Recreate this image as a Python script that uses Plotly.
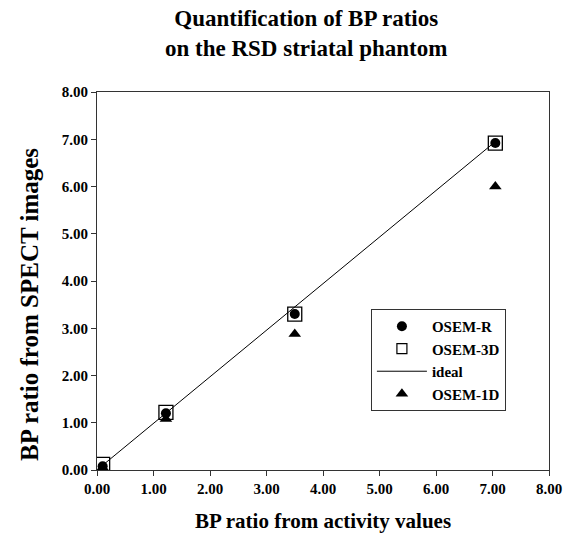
import plotly.graph_objects as go

activity = [0.10, 1.22, 3.50, 7.05]
osem_r = [0.08, 1.20, 3.30, 6.92]
osem_3d = [0.12, 1.22, 3.30, 6.92]
osem_1d = [0.05, 1.08, 2.88, 6.00]
ideal_x = [0.10, 7.05]
ideal_y = [0.10, 6.95]
ticks = [0, 1, 2, 3, 4, 5, 6, 7, 8]
tick_labels = ["<b>0.00</b>", "<b>1.00</b>", "<b>2.00</b>", "<b>3.00</b>", "<b>4.00</b>",
               "<b>5.00</b>", "<b>6.00</b>", "<b>7.00</b>", "<b>8.00</b>"]

serif = "Liberation Serif, Times New Roman, serif"

fig = go.Figure()
# data marks (legend drawn separately with smaller symbols)
fig.add_trace(go.Scatter(x=activity, y=osem_r, mode="markers", showlegend=False,
                         marker=dict(symbol="circle", size=10, color="black")))
fig.add_trace(go.Scatter(x=activity, y=osem_3d, mode="markers", showlegend=False,
                         marker=dict(symbol="square-open", size=14, color="black",
                                     line=dict(width=1.3, color="black"))))
fig.add_trace(go.Scatter(x=ideal_x, y=ideal_y, mode="lines", showlegend=False,
                         line=dict(color="black", width=1)))
fig.add_trace(go.Scatter(x=activity, y=osem_1d, mode="markers", showlegend=False,
                         marker=dict(symbol="triangle-up", size=11, color="black")))

# legend entries
fig.add_trace(go.Scatter(x=[None], y=[None], mode="markers", name="<b>OSEM-R</b>",
                         marker=dict(symbol="circle", size=10, color="black")))
fig.add_trace(go.Scatter(x=[None], y=[None], mode="markers", name="<b>OSEM-3D</b>",
                         marker=dict(symbol="square-open", size=10, color="black",
                                     line=dict(width=1.2, color="black"))))
fig.add_trace(go.Scatter(x=[None], y=[None], mode="lines", name="<b>ideal</b>",
                         line=dict(color="black", width=1)))
fig.add_trace(go.Scatter(x=[None], y=[None], mode="markers", name="<b>OSEM-1D</b>",
                         marker=dict(symbol="triangle-up", size=11, color="black")))

axis_common = dict(
    range=[0, 8], tickvals=ticks, ticktext=tick_labels,
    showline=True, linecolor="#333", linewidth=1, mirror=True,
    ticks="outside", ticklen=5, tickcolor="#333",
    showgrid=False, zeroline=False,
    tickfont=dict(family=serif, size=15, color="black"),
)

fig.update_layout(
    width=574, height=542,
    margin=dict(l=97, r=25, t=92, b=72),
    paper_bgcolor="white", plot_bgcolor="white",
    xaxis=dict(axis_common, title=dict(text="<b>BP ratio from activity values</b>",
                                       font=dict(family=serif, size=21, color="black"),
                                       standoff=17)),
    yaxis=axis_common,
    legend=dict(x=0.606, y=0.426, xanchor="left", yanchor="top",
                bordercolor="#333", borderwidth=1, bgcolor="white",
                font=dict(family=serif, size=15, color="black"),
                tracegroupgap=0, itemwidth=50),
    showlegend=True,
    annotations=[
        dict(text="<b>Quantification of BP ratios<br>on the RSD striatal phantom</b>",
             xref="paper", yref="paper", x=0.462, y=1.234, xanchor="center", yanchor="top",
             showarrow=False, font=dict(family=serif, size=23, color="black")),
        dict(text="<b>BP ratio from SPECT images</b>", textangle=-90,
             xref="paper", yref="paper", x=-0.148, y=0.437, xanchor="center", yanchor="middle",
             showarrow=False, font=dict(family=serif, size=25, color="black")),
    ],
)

fig.write_html("out.html")
